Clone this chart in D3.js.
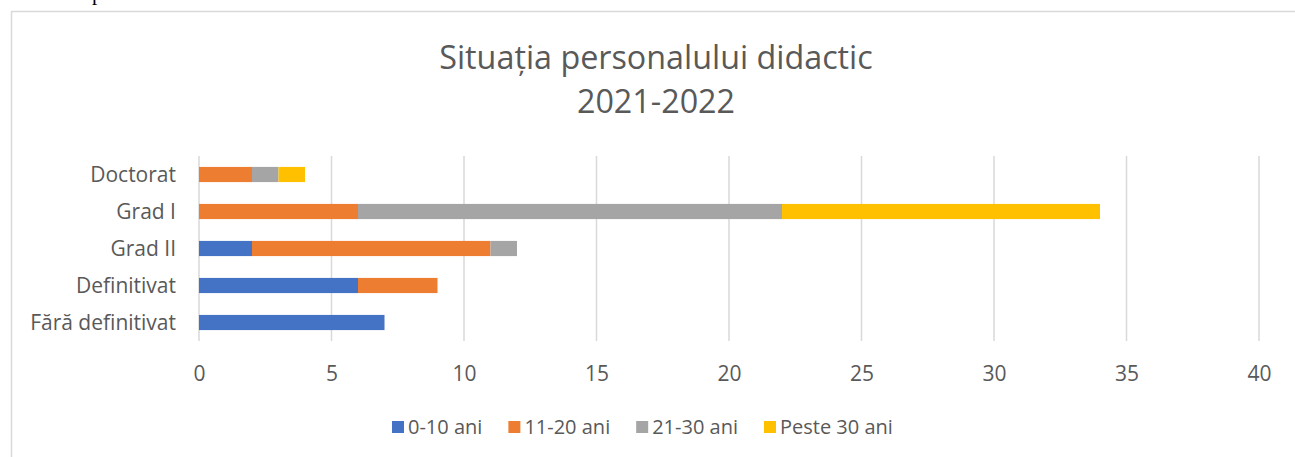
<!DOCTYPE html>
<html>
<head>
<meta charset="utf-8">
<script src="https://cdn.jsdelivr.net/npm/d3@7"></script>
<style>
  html, body { margin: 0; padding: 0; background: #fff; }
  svg { display: block; }
</style>
</head>
<body>
<svg id="chart" width="1295" height="457"></svg>
<script>
// ---- data ----
const categories = ["Doctorat", "Grad I", "Grad II", "Definitivat", "Fără definitivat"];
const seriesNames = ["0-10 ani", "11-20 ani", "21-30 ani", "Peste 30 ani"];
const s0_10 = [0, 0, 2, 6, 7];
const s11_20 = [2, 6, 9, 3, 0];
const s21_30 = [1, 16, 1, 0, 0];
const s30plus = [1, 12, 0, 0, 0];
const xTicks = [0, 5, 10, 15, 20, 25, 30, 35, 40];
const titleLines = ["Situația personalului didactic", "2021-2022"];
const colors = ["#4472C4", "#ED7D31", "#A5A5A5", "#FFC000"];

// ---- layout ----
const font = "'Open Sans', 'Noto Sans', sans-serif";
const textColor = "#595959";
const svg = d3.select("#chart");

// fragment of text above the chart (cut off at top in the reference)
svg.append("text").attr("x", 92).attr("y", 0)
  .attr("font-family", "'Liberation Serif', serif").attr("font-size", 21)
  .attr("fill", "#000").text("p");

// chart border
svg.append("rect").attr("x", 11.5).attr("y", 11.5)
  .attr("width", 1400).attr("height", 600)
  .attr("fill", "#fff").attr("stroke", "#D9D9D9").attr("stroke-width", 1.5);

const x = d3.scaleLinear().domain([0, 40]).range([199, 1259]);
const y = d3.scaleBand().domain(categories).range([156, 341]).paddingInner(0.59).paddingOuter(0.295);

// gridlines
svg.append("g").selectAll("line").data(xTicks).join("line")
  .attr("x1", d => x(d)).attr("x2", d => x(d))
  .attr("y1", 156).attr("y2", 341)
  .attr("stroke", "#D9D9D9").attr("stroke-width", 1.5);

// stacked data
const rows = categories.map((c, i) => ({
  cat: c,
  "0-10 ani": s0_10[i], "11-20 ani": s11_20[i], "21-30 ani": s21_30[i], "Peste 30 ani": s30plus[i]
}));
const stacked = d3.stack().keys(seriesNames)(rows);

svg.append("g").selectAll("g").data(stacked).join("g")
  .attr("fill", (d, i) => colors[i])
  .selectAll("rect").data(d => d).join("rect")
  .attr("x", d => x(d[0]))
  .attr("width", d => Math.max(0, x(d[1]) - x(d[0])))
  .attr("y", d => y(d.data.cat))
  .attr("height", y.bandwidth());

// x axis labels
const xAxis = d3.axisBottom(x).tickValues(xTicks).tickSize(0).tickPadding(0);
const xg = svg.append("g").attr("transform", "translate(0,373)").call(xAxis);
xg.select(".domain").remove();
xg.selectAll("text").attr("font-family", font).attr("font-size", 21)
  .attr("fill", textColor).attr("y", 0).attr("dy", "0.36em");

// y axis labels
const yAxis = d3.axisLeft(y).tickSize(0).tickPadding(0);
const yg = svg.append("g").attr("transform", "translate(176,0)").call(yAxis);
yg.select(".domain").remove();
yg.selectAll("text").attr("font-family", font).attr("font-size", 21)
  .attr("fill", textColor).attr("dy", "0.36em");

// title
const title = svg.append("text").attr("text-anchor", "middle")
  .attr("font-family", font).attr("font-size", 32.3).attr("fill", textColor);
titleLines.forEach((t, i) => {
  title.append("tspan").attr("x", 656).attr("y", 69 + i * 44).text(t);
});

// legend
const legend = svg.append("g");
let lx = 392;
seriesNames.forEach((name, i) => {
  const g = legend.append("g");
  g.append("rect").attr("x", lx).attr("y", 421).attr("width", 12).attr("height", 12).attr("fill", colors[i]);
  const t = g.append("text").attr("x", lx + 16).attr("y", 427).attr("dy", "0.36em")
    .attr("font-family", font).attr("font-size", 20).attr("fill", textColor).text(name);
  lx += 16 + t.node().getComputedTextLength() + 26;
});
</script>
</body>
</html>
